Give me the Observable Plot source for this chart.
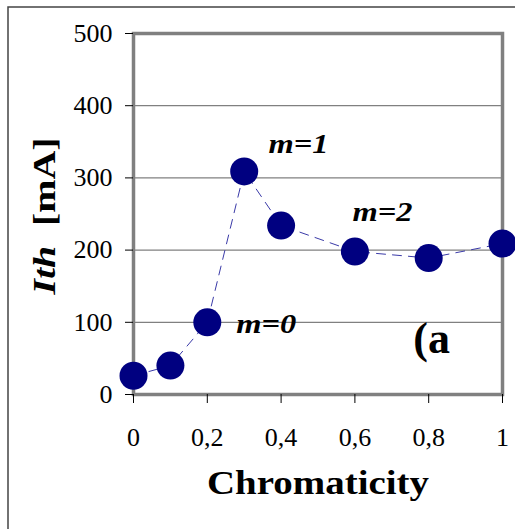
<!DOCTYPE html>
<html>
<head>
<meta charset="utf-8">
<script src="https://cdn.jsdelivr.net/npm/d3@7"></script>
<script src="https://cdn.jsdelivr.net/npm/@observablehq/plot@0.6"></script>
<style>
  html, body { margin: 0; padding: 0; background: #fff; }
  #chart { width: 515px; height: 529px; overflow: hidden; }
  #chart svg, #chart svg text { font-family: "Liberation Serif", "Times New Roman", serif !important; }
</style>
</head>
<body>
<div id="chart"></div>
<script>
const chromaticity = [0, 0.1, 0.2, 0.3, 0.4, 0.6, 0.8, 1.0];
const ith = [26, 40, 100, 309, 234, 198, 189, 209];
const xTicks = [0, 0.2, 0.4, 0.6, 0.8, 1];
const yTicks = [0, 100, 200, 300, 400, 500];
const modeLabels = ["m=0", "m=1", "m=2"];
const modeX = [0.36, 0.447, 0.675];
const modeY = [97, 347, 252];
const panelLabel = "(a";
const xTitle = "Chromaticity";

const data = chromaticity.map((c, i) => ({x: c, y: ith[i]}));
const modes = modeLabels.map((t, i) => ({t, x: modeX[i], y: modeY[i]}));
const fmt = d => String(d).replace(".", ",");

const chart = Plot.plot({
  width: 515,
  height: 529,
  marginLeft: 133,
  marginRight: 13,
  marginTop: 33,
  marginBottom: 135,
  style: {fontSize: "26px", color: "#000", background: "#fff", overflow: "visible"},
  x: {domain: [0, 1]},
  y: {domain: [0, 500]},
  marks: [
    Plot.gridY(yTicks, {stroke: "#808080", strokeOpacity: 1, strokeWidth: 1.3}),
    Plot.frame({stroke: "#808080", strokeWidth: 3.5}),
    Plot.axisY({ticks: yTicks, tickSize: 8, tickPadding: 13, label: null, tickFormat: d => String(d), stroke: "#000", fontSize: 26}),
    Plot.axisX({ticks: xTicks, tickSize: 9, tickPadding: 24, label: null, tickFormat: fmt, fontSize: 26}),
    Plot.line(data, {x: "x", y: "y", stroke: "#3a3aa8", strokeWidth: 1, strokeDasharray: "9,7"}),
    Plot.dot(data, {x: "x", y: "y", r: 14, fill: "#000080", stroke: "none"}),
    Plot.text(modes, {x: "x", y: "y", text: "t", fontSize: 27, fontWeight: "bold", fontStyle: "italic", fill: "#000", textAnchor: "middle"}),
    Plot.text([panelLabel], {x: 0.808, y: 77, text: d => d, fontSize: 44, fontWeight: "bold", fill: "#000", textAnchor: "middle"}),
    Plot.text([xTitle], {frameAnchor: "bottom", dy: 99, text: d => d, fontSize: 34, fontWeight: "bold", fill: "#000"})
  ]
});

const svg = d3.select(chart);
svg.insert("rect", ":first-child")
  .attr("x", 8).attr("y", 7).attr("width", 560).attr("height", 600)
  .attr("fill", "none").attr("stroke", "#444").attr("stroke-width", 1.5);

// stretch labels horizontally to match reference widths
svg.selectAll("text").each(function() {
  const t = this.textContent;
  if (/^m=\d$/.test(t)) { this.setAttribute("textLength", 60); this.setAttribute("lengthAdjust", "spacingAndGlyphs"); }
  if (t === xTitle) { this.setAttribute("textLength", 222); this.setAttribute("lengthAdjust", "spacingAndGlyphs"); }
});

const yl = svg.append("text")
  .attr("transform", "translate(55,216) rotate(-90)")
  .attr("text-anchor", "middle")
  .attr("font-size", 32)
  .attr("font-weight", "bold")
  .attr("fill", "#000")
  .attr("textLength", 157)
  .attr("lengthAdjust", "spacingAndGlyphs");
yl.append("tspan").attr("font-style", "italic").text("Ith");
yl.append("tspan").text("\u00a0 [mA]");

document.getElementById("chart").appendChild(chart);
</script>
</body>
</html>
